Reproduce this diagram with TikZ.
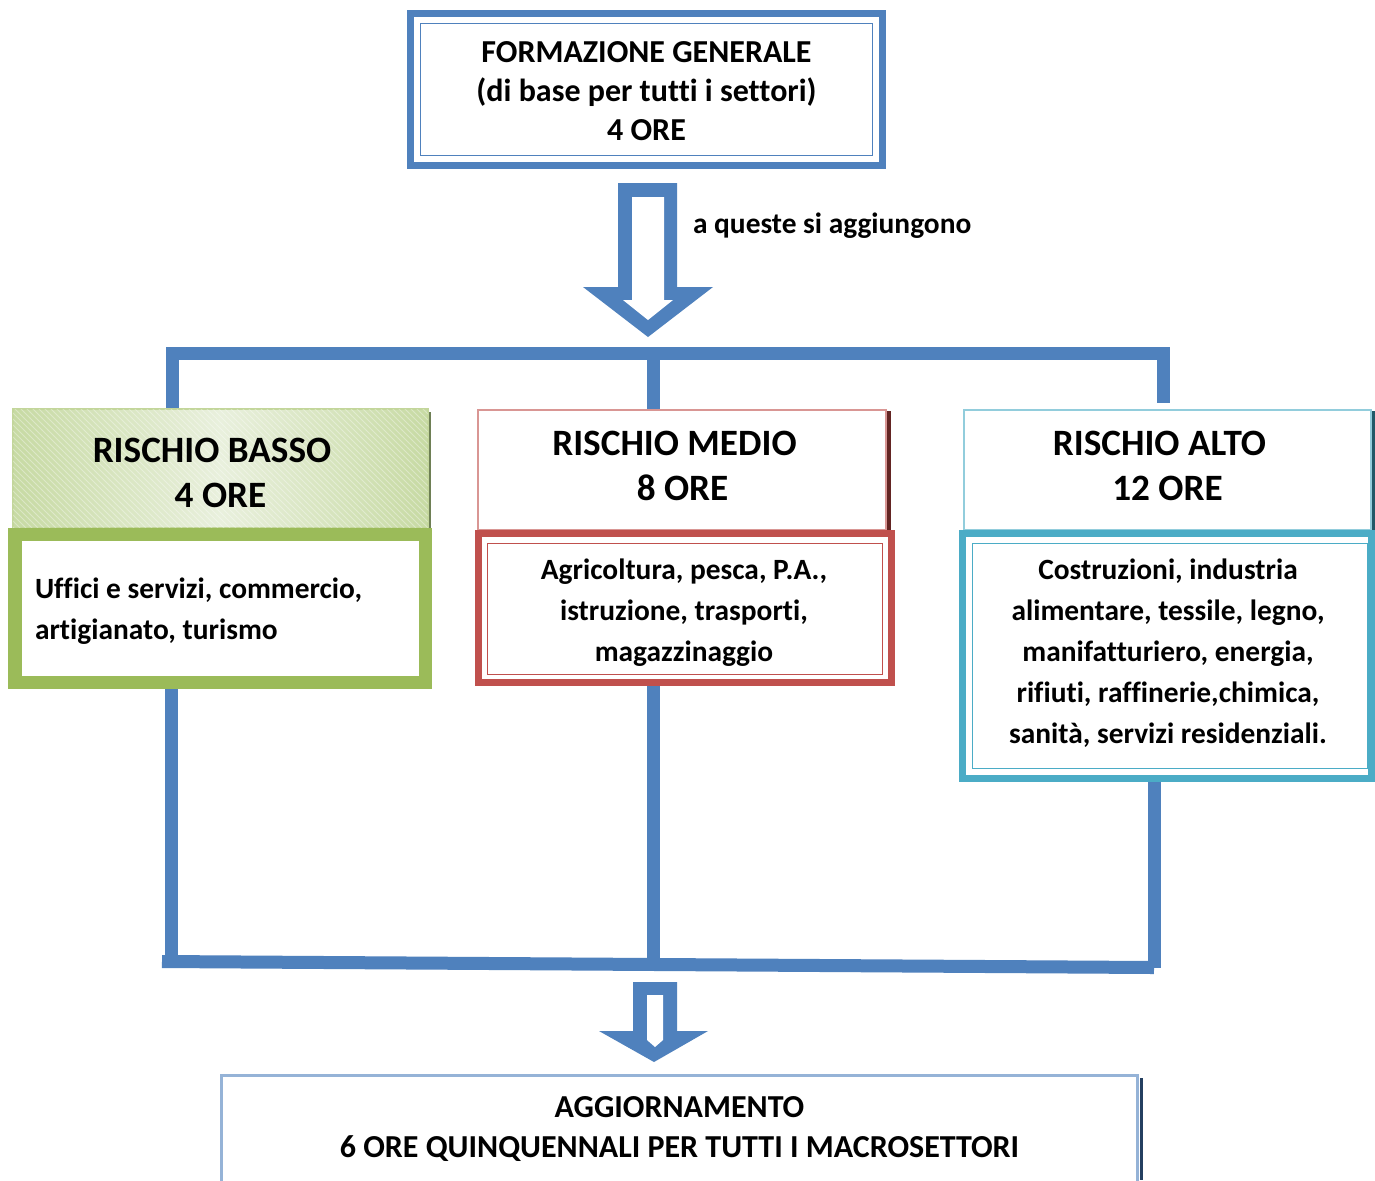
\documentclass[tikz,border=0pt]{standalone}
\usepackage{fontspec}
\setmainfont{Carlito}[Ligatures=NoCommon]
\usetikzlibrary{patterns}
\definecolor{cblue}{HTML}{4F81BD}
\definecolor{cbluelt}{HTML}{95B3D7}
\definecolor{cgreen}{HTML}{9BBB59}
\definecolor{cgreenlt}{HTML}{C3D69B}
\definecolor{cgreenfill}{HTML}{C7DAA3}
\definecolor{cgreenmid}{HTML}{E9F0DD}
\definecolor{cgreensh}{HTML}{6E7F55}
\definecolor{cred}{HTML}{C0504D}
\definecolor{cpink}{HTML}{D99694}
\definecolor{credsh}{HTML}{632523}
\definecolor{cteal}{HTML}{4BACC6}
\definecolor{cteallt}{HTML}{92CDDC}
\definecolor{ctealsh}{HTML}{215968}
\definecolor{cnavysh}{HTML}{243F60}
\pgfdeclarelayer{bg}
\pgfsetlayers{bg,main}
\begin{document}
\begin{tikzpicture}[x=0.5pt,y=-0.5pt,
  box/.style={rectangle,inner sep=0pt,outer sep=0pt,fill=white},
  conn/.style={draw=cblue,line width=6.5pt,line cap=butt},
  tnorm/.style={inner sep=0pt,outer sep=0pt,anchor=base,font=\fontsize{14.7}{17}\selectfont\bfseries},
  tbig/.style={inner sep=0pt,outer sep=0pt,anchor=base,font=\fontsize{16}{19}\selectfont\bfseries},
  thead/.style={inner sep=0pt,outer sep=0pt,anchor=base,font=\fontsize{18.6}{22}\selectfont\bfseries}]
\clip (0,0) rectangle (1375,1180);
\begin{pgfonlayer}{bg}
\fill[white] (0,0) rectangle (1375,1180);
\end{pgfonlayer}

% ---- top box
\node[box,draw=cblue,line width=3.5pt,minimum width=236pt,minimum height=75.75pt] (gen) at (646.5,89.25) {};
\node[box,draw=cblue,line width=0.5pt,minimum width=226pt,minimum height=66pt] (genin) at (646.5,89) {};
\node[tbig] (g1) at (646.5,62) {FORMAZIONE GENERALE};
\node[tbig] (g2) at (646.5,101) {(di base per tutti i settori)};
\node[tbig] (g3) at (646.5,140.5) {4 ORE};

% ---- arrow 1
\fill[cblue] (618,183) -- (677,183) -- (677,287) -- (713,287) -- (648,337) -- (583,287) -- (618,287) -- cycle;
\fill[white] (632,197) -- (664,197) -- (664,300) -- (673,300) -- (648,320) -- (623,300) -- (632,300) -- cycle;
\node[tnorm,anchor=base west] (agg1) at (693,233) {a queste si aggiungono};

% ---- header boxes
\fill[cgreensh] (428,412) rectangle (431,528);
\node[box,draw=cgreenlt,line width=1pt,minimum width=207.5pt,minimum height=59.5pt,
  left color=cgreenfill,right color=cgreenfill,middle color=cgreenmid] (bassoh) at (220.5,468.5) {};
\fill[pattern=north west lines,pattern color=white,opacity=0.35] (bassoh.north west) rectangle (bassoh.south east);
\node[thead] (bh1) at (212,462.75) {RISCHIO BASSO};
\node[thead] (bh2) at (220.5,507.75) {4 ORE};

\fill[credsh] (887,411) rectangle (891,530);
\node[box,draw=cpink,line width=1.25pt,minimum width=204pt,minimum height=60pt] (medh) at (682,470) {};
\node[thead] (mh1) at (674.5,455.75) {RISCHIO MEDIO};
\node[thead] (mh2) at (682.5,500.75) {8 ORE};

\fill[ctealsh] (1372,411) rectangle (1375,530);
\node[box,draw=cteallt,line width=1.25pt,minimum width=203.5pt,minimum height=60pt] (altoh) at (1167.5,470) {};
\node[thead] (ah1) at (1159.5,455.75) {RISCHIO ALTO};
\node[thead] (ah2) at (1167.5,500.75) {12 ORE};

% ---- body boxes
\node[box,draw=cgreen,line width=6.75pt,minimum width=205.25pt,minimum height=74pt] (bassob) at (220.25,608.5) {};
\node[tnorm,anchor=base west] (bb1) at (35,598) {Uffici e servizi, commercio,};
\node[tnorm,anchor=base west] (bb2) at (35,639) {artigianato, turismo};

\node[box,draw=cred,line width=3.5pt,minimum width=206.25pt,minimum height=74.5pt] (medb) at (684.75,608) {};
\node[box,draw=cred,line width=0.5pt,minimum width=197.5pt,minimum height=65.5pt] (medin) at (684.5,608.5) {};
\node[tnorm] (mb1) at (684,579) {Agricoltura, pesca, P.A.,};
\node[tnorm] (mb2) at (684,620) {istruzione, trasporti,};
\node[tnorm] (mb3) at (684,661) {magazzinaggio};

\node[box,draw=cteal,line width=3.5pt,minimum width=204.5pt,minimum height=122.25pt] (altob) at (1167,655.75) {};
\node[box,draw=cteal,line width=0.5pt,minimum width=197.5pt,minimum height=112.5pt] (altoin) at (1169.5,655.5) {};
\node[tnorm] (ab1) at (1168,579) {Costruzioni, industria};
\node[tnorm] (ab2) at (1168,620) {alimentare, tessile, legno,};
\node[tnorm] (ab3) at (1168,661) {manifatturiero, energia,};
\node[tnorm] (ab4) at (1168,702) {rifiuti, raffinerie,chimica,};
\node[tnorm] (ab5) at (1168,743) {sanità, servizi residenziali.};

% ---- bottom box
\fill[cnavysh] (1140,1078) rectangle (1143,1180);
\node[box,draw=cbluelt,line width=1.5pt,minimum width=458pt,minimum height=77.25pt] (aggbox) at (679.5,1152.75) {};
\node[tbig] (bt1) at (679.5,1117) {AGGIORNAMENTO};
\node[tbig] (bt2) at (679.5,1157) {6 ORE QUINQUENNALI PER TUTTI I MACROSETTORI};

% ---- arrow 2
\fill[cblue] (633,982) -- (677,982) -- (677,1031) -- (708,1031) -- (654,1062) -- (599,1031) -- (633,1031) -- cycle;
\fill[white] (647,995) -- (663,995) -- (663,1040) -- (655,1047) -- (647,1040) -- cycle;

% ---- connectors
\coordinate (tl) at (172,353.5);
\coordinate (tm) at (653.5,353.5);
\coordinate (tr) at (1163.5,353.5);
\coordinate (trend) at (1163.5,403);
\coordinate (vl) at (171.5,961.5);
\coordinate (vm) at (653.5,964);
\coordinate (vr) at (1154.5,968);
\coordinate (hl) at (162,961.5);
\coordinate (hr) at (1154,967.5);
\begin{pgfonlayer}{bg}
  \draw[conn,line join=miter] (bassoh.north -| tl) -- (tl) -- (tr) -- (trend);
  \draw[conn] (tm) -- (tm |- medh.north);
  \draw[conn] (bassob.south -| vl) -- (vl);
  \draw[conn] (medb.south -| vm) -- (vm);
  \draw[conn] (altob.south -| vr) -- (vr);
  \draw[conn] (hl) -- (hr);
\end{pgfonlayer}
\end{tikzpicture}
\end{document}
